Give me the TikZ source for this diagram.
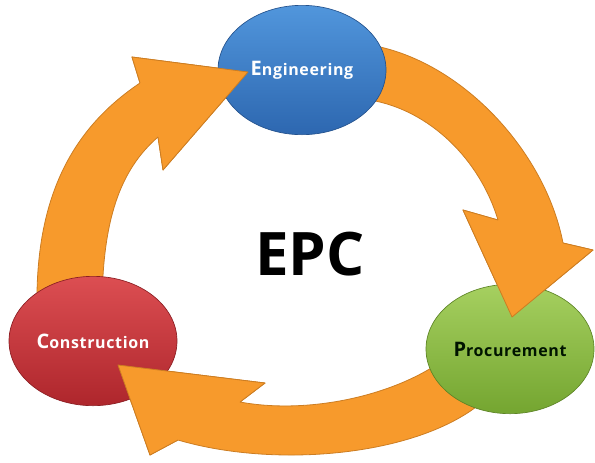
\documentclass[tikz,border=0pt]{standalone}
\usepackage{fontspec}
\setmainfont{Open Sans}
\usepackage{xcolor}
\usepackage{tikz}
\usetikzlibrary{shapes.geometric,positioning,calc}

\definecolor{bandfill}{HTML}{F79A2C}
\definecolor{bandedge}{HTML}{CC7D22}
\definecolor{engtop}{HTML}{5196DC}
\definecolor{engbot}{HTML}{2D67B0}
\definecolor{proctop}{HTML}{A6D060}
\definecolor{procbot}{HTML}{74A530}
\definecolor{constop}{HTML}{DC4E52}
\definecolor{consbot}{HTML}{AE262C}
\newcommand{\stagelabel}[2]{{\fontsize{15}{15}\selectfont #1}{\fontsize{12}{12}\selectfont\addfontfeature{LetterSpace=4} #2}}

\tikzset{
  stage/.style={ellipse, inner sep=0pt, minimum width=126pt, minimum height=97pt, line width=0.5pt, font=\bfseries},
  band/.style={fill=bandfill, draw=bandedge, line width=0.6pt, line join=round},
  tiphead/.style={fill=bandfill},
}

\begin{document}
\begin{tikzpicture}[x=0.75pt, y=-0.75pt]
    \useasboundingbox (0,0) rectangle (595,462);

    % Arrows
    \draw[band] (37,310) .. controls (35,200) and (70,130) .. (140,83) -- (132,57) -- (248,72) -- (163,170) -- (158,137) .. controls (120,170) and (102,220) .. (102,310) -- cycle;
    \draw[band] (370,45) .. controls (460,60) and (545,150) .. (563,243) -- (593,250) -- (512,317) -- (463,210) -- (498,220) .. controls (480,160) and (430,110) .. (370,100) -- cycle;
    \draw[band] (490,395) .. controls (430,455) and (280,470) .. (178,440) -- (150,455) -- (118,365) -- (265,383) -- (240,402) .. controls (310,415) and (400,395) .. (450,355) -- cycle;

    % Stages
    \node[stage, draw=engbot!80!black, top color=engtop, bottom color=engbot, text=white] (eng) at (302,70) {\stagelabel{E}{ngineering}};
    \node[stage, draw=procbot!80!black, top color=proctop, bottom color=procbot, text=black!80!green!40!black] (proc) at (510,349) {\stagelabel{P}{rocurement}};
    \node[stage, draw=consbot!80!black, top color=constop, bottom color=consbot, text=white] (cons) at (93,341) {\stagelabel{C}{onstruction}};

    % Heads over the stages
    \fill[tiphead] (140,83) -- (132,57) -- (248,72) -- (163,170) -- (158,137) -- cycle; \draw[bandedge, line width=0.6pt, line join=round] (140,83) -- (132,57) -- (248,72) -- (163,170) -- (158,137);
    \fill[tiphead] (563,243) -- (593,250) -- (512,317) -- (463,210) -- (498,220) -- cycle; \draw[bandedge, line width=0.6pt, line join=round] (563,243) -- (593,250) -- (512,317) -- (463,210) -- (498,220);
    \fill[tiphead] (178,440) -- (150,455) -- (118,365) -- (265,383) -- (240,402) -- cycle; \draw[bandedge, line width=0.6pt, line join=round] (178,440) -- (150,455) -- (118,365) -- (265,383) -- (240,402);

    \node[font=\fontsize{45}{45}\selectfont\bfseries] (epc) at (310,254) {EPC};
\end{tikzpicture}
\end{document}
